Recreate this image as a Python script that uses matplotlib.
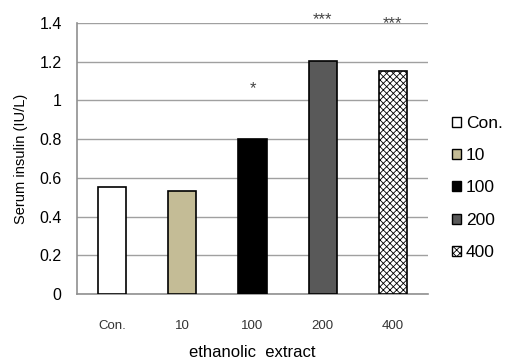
import matplotlib.pyplot as plt
from matplotlib.patches import Patch

# data
groups = ['Con.', '10', '100', '200', '400']
insulin = [0.553, 0.534, 0.80, 1.202, 1.15]
stars = ['', '', '*', '***', '***']
star_y = [None, None, 1.06, 1.42, 1.395]

colors = ['white', '#c4bc96', 'black', '#595959', 'white']
hatches = ['', '', '', '', 'xxxxx']

plt.rcParams['font.family'] = ['Liberation Sans', 'DejaVu Sans']
plt.rcParams['hatch.linewidth'] = 0.6

fig = plt.figure(figsize=(5.06, 3.59), dpi=100)
ax = fig.add_axes([77 / 506, 1 - 294 / 359, 351 / 506, 271 / 359])

x = range(len(groups))
bars = ax.bar(x, insulin, width=0.4, color=colors, edgecolor='black',
              linewidth=1.2, zorder=3)
for b, h in zip(bars, hatches):
    b.set_hatch(h)

for i, s in enumerate(stars):
    if s:
        ax.text(i, star_y[i], s, ha='center', va='center', fontsize=12,
                color='#444444')

ax.set_xlim(-0.5, len(groups) - 0.5)
ax.set_ylim(0, 1.4)
ax.set_yticks([0, 0.2, 0.4, 0.6, 0.8, 1, 1.2, 1.4])
ax.set_yticklabels(['0', '0.2', '0.4', '0.6', '0.8', '1', '1.2', '1.4'])
ax.yaxis.grid(True, color='#a0a0a0', linewidth=1, zorder=0)
ax.set_xticks(list(x))
ax.set_xticklabels(groups, fontsize=9.5, color='#333333')
ax.tick_params(axis='x', length=0, pad=19)
ax.tick_params(axis='y', length=0, pad=11, labelsize=11.5)
for sp in ['top', 'right']:
    ax.spines[sp].set_visible(False)
for sp in ['left', 'bottom']:
    ax.spines[sp].set_color('#909090')
    ax.spines[sp].set_linewidth(1.2)

ax.set_ylabel('Serum insulin (IU/L)', fontsize=10.5, labelpad=8)
ax.set_xlabel('ethanolic  extract', fontsize=12, labelpad=9)

handles = [Patch(facecolor=c, edgecolor='black', hatch=h)
           for c, h in zip(colors, hatches)]
fig.legend(handles, groups, loc='center left', bbox_to_anchor=(452 / 506, 1 - 188 / 359),
           frameon=False, fontsize=12.5, handlelength=0.5, handleheight=0.5,
           handletextpad=0.3, labelspacing=1.0, borderaxespad=0, borderpad=0)

fig.savefig('out.png', dpi=100)
